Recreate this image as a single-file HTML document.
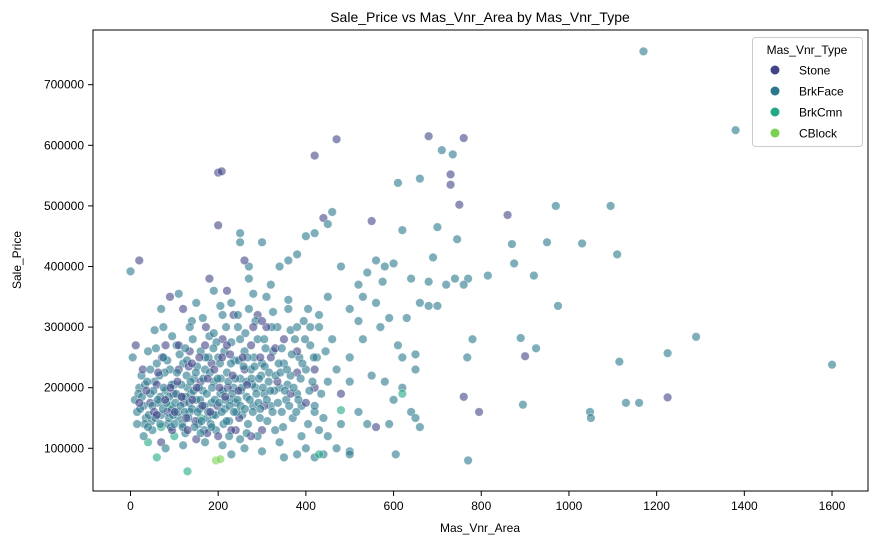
<!DOCTYPE html>
<html><head><meta charset="utf-8"><style>
body{margin:0;background:#fff;width:877px;height:545px;overflow:hidden}
svg{display:block;font-family:"Liberation Sans","DejaVu Sans",sans-serif}
</style></head><body>
<svg id="chart" width="877" height="545">
<text x="480" y="22" text-anchor="middle" font-size="14">Sale_Price vs Mas_Vnr_Area by Mas_Vnr_Type</text>
<g id="ticks"></g>
<g id="marks"></g>
<rect x="93" y="30" width="775" height="461" fill="none" stroke="#000" stroke-width="1"/>
<text x="480" y="532" text-anchor="middle" font-size="12">Mas_Vnr_Area</text>
<text transform="translate(21,260) rotate(-90)" text-anchor="middle" font-size="12">Sale_Price</text>
<g>
<rect x="752.5" y="37.5" width="110" height="109" rx="3" fill="#fff" fill-opacity="0.8" stroke="#ccc"/>
<text x="807" y="54" text-anchor="middle" font-size="12">Mas_Vnr_Type</text>
<g id="legend-items"></g>
</g>
</svg>
<script>
const typeNames=["Stone","BrkFace","BrkCmn","CBlock"];
const typeColors=["#414487","#2a788e","#22a884","#7ad151"];
const xTicks=[0,200,400,600,800,1000,1200,1400,1600];
const yTicks=[100000,200000,300000,400000,500000,600000,700000];
// [area, price in thousands, type index]
const outliers=[[20,410,0],[200,555,0],[208,557,0],[470,610,0],[420,583,0],[680,615,0],[760,612,0],[730,552,0],[730,535,0],[750,502,0],[860,485,0],[550,475,0],[440,480,0],[200,468,0],[760,185,0],[795,160,0],[900,252,0],[1225,184,0],[480,190,0],[560,135,0],[380,225,0],[420,200,0],
[0,392,1],[1170,755,1],[1380,625,1],[1600,238,1],[1290,284,1],[1225,257,1],[1115,243,1],[1048,160,1],[1050,150,1],[1130,175,1],[1160,175,1],[1095,500,1],[1110,420,1],[970,500,1],[1030,438,1],[950,440,1],[975,335,1],[920,385,1],[925,265,1],[890,282,1],[895,172,1],[870,437,1],[875,405,1],[815,385,1],[780,280,1],[770,380,1],[768,250,1],[770,80,1],[760,370,1],[740,380,1],[745,445,1],[735,585,1],[710,592,1],[700,465,1],[690,415,1],[720,370,1],[680,375,1],[660,545,1],[610,538,1],[620,460,1],[600,405,1],[640,380,1],[660,340,1],[680,335,1],[700,335,1],[610,270,1],[650,255,1],[620,250,1],[640,160,1],[650,150,1],[660,135,1],[605,90,1],[590,315,1],[560,410,1],[580,400,1],[540,390,1],[520,370,1],[500,330,1],[480,400,1],[460,490,1],[450,470,1],[420,455,1],[400,450,1],[380,420,1],[360,410,1],[340,400,1],[300,440,1],[270,400,1],[250,455,1],[250,440,1],[270,380,1],[460,280,1],[500,250,1],[470,100,1],[500,95,1],[500,90,1],[440,90,1],[420,85,1],[380,90,1],[400,100,1],[300,95,1],[350,85,1],[230,90,1],[260,100,1],[570,300,1],[530,280,1],[550,220,1],[580,210,1],[600,180,1],[520,160,1],[540,140,1],[590,140,1],[630,315,1],[560,340,1],[520,310,1],[500,210,1],[470,230,1],[450,350,1],[430,320,1],[410,300,1],[480,140,1],[450,120,1],[420,160,1],[620,200,1],[650,230,1],[575,375,1],[530,350,1],
[40,110,2],[60,85,2],[130,62,2],[70,135,2],[430,90,2],[480,163,2],[620,190,2],[100,120,2],[160,150,2],[90,170,2],
[195,80,3],[205,82,3]];
const cluster=[[5,250,1],[10,180,1],[15,160,1],[20,200,1],[25,220,1],[30,170,1],[35,150,1],[40,260,1],[45,190,1],[50,130,1],[55,210,1],[60,240,1],[65,175,1],[70,155,1],[75,300,1],[80,195,1],[85,140,1],[90,230,1],[95,165,1],[100,205,1],[105,270,1],[110,150,1],[115,185,1],[120,240,1],[125,125,1],[130,200,1],[135,160,1],[140,310,1],[145,215,1],[150,180,1],[155,140,1],[160,260,1],[165,195,1],[170,230,1],[175,150,1],[180,285,1],[185,175,1],[190,210,1],[195,130,1],[200,250,1],[205,190,1],[210,320,1],[215,165,1],[220,225,1],[225,145,1],[230,275,1],[235,200,1],[240,175,1],[245,300,1],[250,215,1],[255,155,1],[260,260,1],[265,185,1],[270,330,1],[275,230,1],[280,170,1],[285,200,1],[290,280,1],[295,150,1],[300,240,1],[305,190,1],[310,350,1],[315,210,1],[320,170,1],[325,260,1],[330,130,1],[335,300,1],[340,200,1],[345,160,1],[350,240,1],[355,180,1],[360,330,1],[365,220,1],[370,150,1],[375,280,1],[380,190,1],[385,250,1],[390,170,1],[395,310,1],[400,230,1],[405,140,1],[410,270,1],[415,210,1],[420,170,1],[425,250,1],[430,300,1],[435,190,1],[440,150,1],[445,260,1],[450,210,1],
[12,270,0],[28,230,0],[45,175,0],[60,205,0],[72,250,0],[85,160,0],[98,190,0],[110,230,0],[122,175,0],[135,260,0],[148,145,0],[160,210,0],[172,300,0],[185,240,0],[198,170,0],[210,280,0],[222,200,0],[235,320,0],[248,150,0],[260,230,0],[275,270,0],[290,320,0],[305,170,0],[320,250,0],[335,210,0],[350,280,0],[365,190,0],[380,260,0],[400,175,0],[420,230,0],[90,350,0],[120,330,0],[180,380,0],[220,360,0],[260,410,0],[150,115,0],[200,120,0],[70,110,0],[300,130,0],[240,130,0],
[18,190,1],[33,205,1],[48,145,1],[58,265,1],[68,185,1],[78,225,1],[88,150,1],[102,175,1],[112,255,1],[118,140,1],[128,220,1],[138,190,1],[142,280,1],[152,235,1],[158,165,1],[168,130,1],[178,250,1],[188,155,1],[196,275,1],[206,215,1],[212,140,1],[218,300,1],[228,180,1],[238,245,1],[242,160,1],[252,195,1],[262,290,1],[268,140,1],[278,205,1],[282,250,1],[292,175,1],[298,220,1],[308,265,1],[312,145,1],[322,300,1],[328,195,1],[338,240,1],[348,135,1],[358,205,1],[368,255,1],[378,160,1],[388,215,1],[398,280,1],[408,195,1],[418,250,1],[70,330,1],[110,355,1],[150,340,1],[190,360,1],[230,340,1],[280,355,1],[320,370,1],[360,345,1],[55,295,1],[95,285,1],[135,300,1],[165,315,1],[205,335,1],[245,320,1],[285,310,1],[325,325,1],[365,295,1],[405,330,1],[30,120,1],[80,100,1],[120,105,1],[170,110,1],[210,105,1],[250,115,1],[290,120,1],[340,110,1],[390,120,1],[430,130,1]];
const dense=[[22,165,1],[26,185,1],[32,140,1],[38,210,1],[42,155,1],[50,170,1],[52,195,1],[57,150,1],[62,180,1],[66,220,1],[68,140,1],[74,165,1],[76,200,1],[82,175,1],[84,245,1],[88,185,1],[92,135,1],[94,205,1],[97,155,1],[104,190,1],[106,225,1],[108,160,1],[114,170,1],[116,205,1],[119,135,1],[124,160,1],[126,185,1],[129,245,1],[132,150,1],[134,175,1],[137,210,1],[140,165,1],[144,195,1],[146,135,1],[149,225,1],[153,160,1],[156,200,1],[159,180,1],[162,145,1],[166,215,1],[169,170,1],[171,250,1],[174,190,1],[177,160,1],[181,225,1],[183,140,1],[186,200,1],[189,265,1],[192,180,1],[194,155,1],[199,215,1],[202,175,1],[204,240,1],[208,160,1],[211,195,1],[214,260,1],[217,180,1],[219,145,1],[223,210,1],[226,170,1],[229,240,1],[232,190,1],[236,160,1],[239,215,1],[244,180,1],[247,245,1],[251,170,1],[254,200,1],[258,235,1],[261,165,1],[264,210,1],[267,250,1],[272,180,1],[276,215,1],[279,160,1],[283,235,1],[287,190,1],[293,215,1],[296,165,1],[302,200,1],[306,235,1],[311,180,1],[316,225,1],[319,195,1],[324,160,1],[331,220,1],[336,175,1],[342,225,1],[352,195,1],[357,230,1],[362,170,1],[372,200,1],[383,180,1],[392,240,1],[20,175,0],[36,195,0],[54,160,0],[63,225,0],[79,180,0],[91,200,0],[101,160,0],[107,210,0],[117,185,0],[127,150,0],[133,235,0],[141,180,0],[151,200,0],[157,250,0],[164,170,0],[176,215,0],[182,160,0],[191,230,0],[203,200,0],[209,250,0],[216,185,0],[227,255,0],[233,220,0],[246,195,0],[256,250,0],[266,205,0],[280,300,0],[296,250,0],[310,300,0],[330,265,0],[300,310,0],[220,270,0],[170,270,0],[140,240,0],[110,270,0],[80,270,0],[60,155,0],[95,130,0],[130,130,0],[175,125,0],[230,130,0],[275,120,0],[15,140,1],[40,135,1],[100,140,1],[160,125,1],[185,135,1],[225,120,1],[265,125,1],[45,230,1],[75,250,1],[125,265,1],[190,290,1],[250,280,1],[305,280,1],[345,265,1],[380,300,1]];
const points=outliers.concat(cluster,dense);
const X=v=>130.5+v*0.43845;
const Y=v=>448.3-(v-100000)*0.000606;
const ns="http://www.w3.org/2000/svg";
const tg=document.getElementById('ticks');
xTicks.forEach(t=>{
  const l=document.createElementNS(ns,'line');
  l.setAttribute('x1',X(t));l.setAttribute('x2',X(t));l.setAttribute('y1',491);l.setAttribute('y2',496);l.setAttribute('stroke','#000');
  
  
  tg.appendChild(l);
  const s=document.createElementNS(ns,'text');
  s.setAttribute('x',X(t));s.setAttribute('y',510);s.setAttribute('text-anchor','middle');s.setAttribute('font-size','12');s.textContent=t;
  
  
  tg.appendChild(s);
});
yTicks.forEach(t=>{
  const l=document.createElementNS(ns,'line');
  l.setAttribute('x1',88);l.setAttribute('x2',93);l.setAttribute('y1',Y(t));l.setAttribute('y2',Y(t));l.setAttribute('stroke','#000');
  
  
  tg.appendChild(l);
  const s=document.createElementNS(ns,'text');
  s.setAttribute('x',84);s.setAttribute('y',Y(t)+4);s.setAttribute('text-anchor','end');s.setAttribute('font-size','12');s.textContent=t;
  
  
  tg.appendChild(s);
});
const mg=document.getElementById('marks');
points.forEach(p=>{
  const c=document.createElementNS(ns,'circle');
  c.setAttribute('cx',X(p[0]));c.setAttribute('cy',Y(p[1]*1000));c.setAttribute('r',4.3);
  c.setAttribute('fill',typeColors[p[2]]);c.setAttribute('fill-opacity','0.6');
  c.setAttribute('stroke','#fff');c.setAttribute('stroke-width','0.6');c.setAttribute('stroke-opacity','0.6');
  
  
  mg.appendChild(c);
});
const lg=document.getElementById('legend-items');
typeNames.forEach((n,i)=>{
  const y=70+i*21;
  const c=document.createElementNS(ns,'circle');
  c.setAttribute('cx',775);c.setAttribute('cy',y);c.setAttribute('r',4.5);c.setAttribute('fill',typeColors[i]);
  
  
  lg.appendChild(c);
  const s=document.createElementNS(ns,'text');
  s.setAttribute('x',799);s.setAttribute('y',y+4.5);s.setAttribute('font-size','12');s.textContent=n;
  
  
  lg.appendChild(s);
});
</script>
</body></html>
